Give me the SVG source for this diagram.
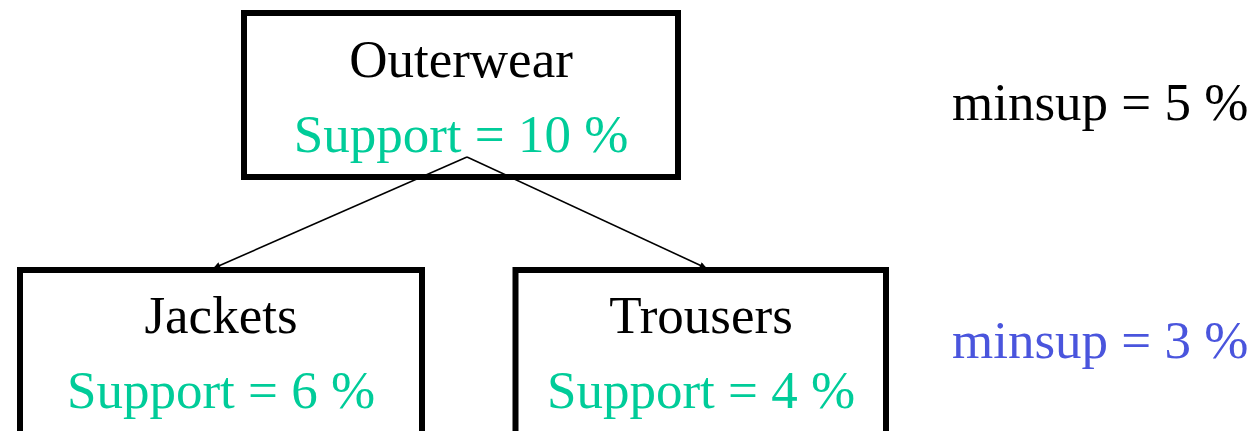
<svg xmlns="http://www.w3.org/2000/svg" width="1257" height="431" viewBox="0 0 1257 431">
  <style>
    .box { fill: #ffffff; stroke: #000000; stroke-width: 6; }
    .name { font-family: "Liberation Serif", "Times New Roman", serif; font-size: 53px; fill: #000000; text-anchor: middle; }
    .sup { font-family: "Liberation Serif", "Times New Roman", serif; font-size: 53px; fill: #00cc99; text-anchor: middle; }
    .note { font-family: "Liberation Serif", "Times New Roman", serif; font-size: 53px; }
    .edge { stroke: #000000; stroke-width: 1.6; fill: none; marker-end: url(#tip); }
  </style>
  <defs>
    <marker id="tip" viewBox="0 0 10 10" refX="9" refY="5" markerWidth="8" markerHeight="7" orient="auto" markerUnits="userSpaceOnUse">
      <path d="M0,0 L10,5 L0,10 Z" fill="#000000"/>
    </marker>
  </defs>
  <rect width="1257" height="431" fill="#ffffff"/>

  <g id="node-outerwear">
    <rect class="box" x="244" y="13" width="434" height="164"/>
    <text class="name" x="461" y="77">Outerwear</text>
    <text class="sup" x="461" y="152">Support = 10 %</text>
  </g>

  <g id="node-jackets">
    <rect class="box" x="20" y="270" width="402" height="200"/>
    <text class="name" x="221" y="333">Jackets</text>
    <text class="sup" x="221" y="408">Support = 6 %</text>
  </g>

  <g id="node-trousers">
    <rect class="box" x="515.5" y="270" width="370.5" height="200"/>
    <text class="name" x="701" y="333">Trousers</text>
    <text class="sup" x="701" y="408">Support = 4 %</text>
  </g>

  <g id="connectors">
    <line class="edge" x1="467" y1="157" x2="214" y2="268"/>
    <line class="edge" x1="467" y1="157" x2="706" y2="268"/>
  </g>

  <g id="thresholds">
    <text class="note" x="952" y="120" fill="#000000">minsup = 5 %</text>
    <text class="note" x="952" y="358" fill="#4a55dd">minsup = 3 %</text>
  </g>
</svg>
